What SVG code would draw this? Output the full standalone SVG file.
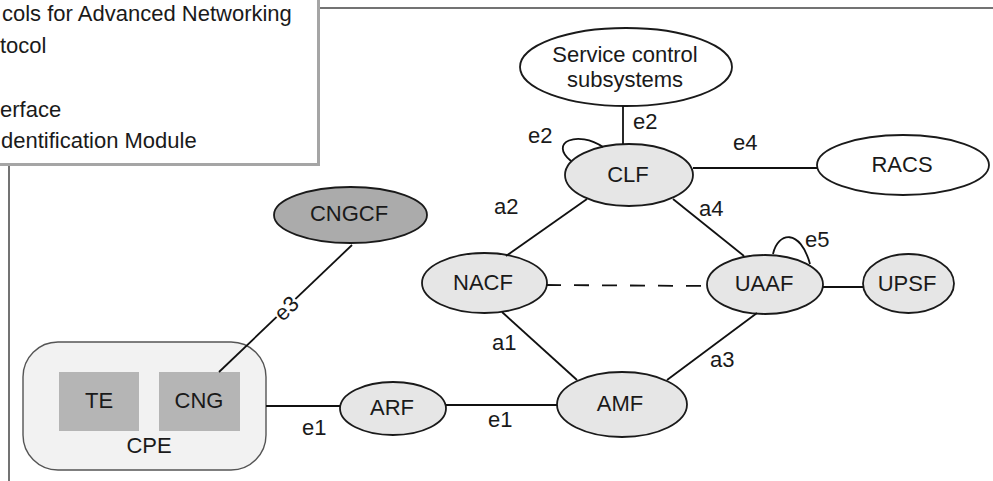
<svg xmlns="http://www.w3.org/2000/svg" width="993" height="481" viewBox="0 0 993 481">
<style>
text{font-family:"Liberation Sans",Arial,sans-serif;font-size:22px;fill:#1a1a1a}
.c{text-anchor:middle}
.n{fill:#e6e6e6;stroke:#1a1a1a;stroke-width:1.8}
.w{fill:#ffffff;stroke:#1a1a1a;stroke-width:1.8}
.l{stroke:#111;stroke-width:1.8;fill:none}
</style>
<g id="frame">
<line x1="9" y1="0" x2="9" y2="481" stroke="#444" stroke-width="1.5"/>
<line x1="300" y1="8" x2="993" y2="8" stroke="#444" stroke-width="1.5"/>
</g>
<g id="legend">
<rect x="-10" y="-10" width="328.5" height="174.5" fill="#fff" stroke="#a5a5a5" stroke-width="3"/>
<text x="2" y="21">cols for Advanced Networking</text>
<text x="0" y="53">tocol</text>
<text x="0" y="117">erface</text>
<text x="1" y="148">dentification Module</text>
</g>
<g id="service-control">
<ellipse class="w" cx="626" cy="67" rx="106" ry="39"/>
<text class="c" x="625" y="62">Service control</text>
<text class="c" x="625" y="87">subsystems</text>
</g>
<g id="clf">
<ellipse class="n" cx="629" cy="175" rx="64" ry="31"/>
<text class="c" x="628" y="182">CLF</text>
</g>
<g id="racs">
<ellipse class="w" cx="903" cy="165" rx="86" ry="30"/>
<text class="c" x="902" y="172">RACS</text>
</g>
<g id="cngcf">
<ellipse cx="350.5" cy="215" rx="76.5" ry="28" fill="#ababab" stroke="#1a1a1a" stroke-width="1.8"/>
<text class="c" x="349" y="221">CNGCF</text>
</g>
<g id="nacf">
<ellipse class="n" cx="484.5" cy="283" rx="62.5" ry="30"/>
<text class="c" x="483" y="290">NACF</text>
</g>
<g id="uaaf">
<ellipse class="n" cx="765" cy="284.5" rx="58" ry="29.5"/>
<text class="c" x="764" y="291">UAAF</text>
</g>
<g id="upsf">
<ellipse class="n" cx="908.5" cy="283.5" rx="45.5" ry="29.5"/>
<text class="c" x="907" y="291">UPSF</text>
</g>
<g id="amf">
<ellipse class="n" cx="622" cy="404.5" rx="65" ry="32.5"/>
<text class="c" x="620" y="411">AMF</text>
</g>
<g id="arf">
<ellipse class="n" cx="393" cy="408.5" rx="53" ry="26.5"/>
<text class="c" x="392" y="415">ARF</text>
</g>
<g id="cpe">
<rect x="23" y="342" width="243" height="128" rx="35" ry="35" fill="#f2f2f2" stroke="#555" stroke-width="1.4"/>
<text class="c" x="149" y="453">CPE</text>
</g>
<g id="te">
<rect x="59" y="372" width="80" height="59" fill="#b5b5b5"/>
<text class="c" x="99" y="408">TE</text>
</g>
<g id="cng">
<rect x="159" y="372" width="81" height="59" fill="#b5b5b5"/>
<text class="c" x="199" y="408">CNG</text>
</g>
<g id="connectors">
<line class="l" x1="623" y1="106" x2="623" y2="144"/>
<path class="l" d="M571,161 C548,142 578,130 603,147"/>
<line class="l" x1="693" y1="168" x2="817" y2="168"/>
<line class="l" x1="587" y1="199" x2="506" y2="256"/>
<line class="l" x1="673" y1="199" x2="744" y2="256"/>
<path class="l" d="M773,254 C778,232 800,228 810,264"/>
<line class="l" x1="546" y1="285" x2="707" y2="286" stroke-dasharray="15 13"/>
<line class="l" x1="823" y1="287" x2="863" y2="287"/>
<line class="l" x1="502" y1="312" x2="577" y2="380"/>
<line class="l" x1="757" y1="313" x2="667" y2="380"/>
<line class="l" x1="446" y1="405" x2="557" y2="405"/>
<line class="l" x1="266" y1="406" x2="340" y2="406"/>
<line class="l" x1="352" y1="245" x2="219" y2="372"/>
<text x="633" y="129">e2</text>
<text x="528" y="143">e2</text>
<text x="733" y="150">e4</text>
<text x="494" y="214">a2</text>
<text x="699" y="216">a4</text>
<text x="805" y="247">e5</text>
<text x="492" y="350">a1</text>
<text x="710" y="367">a3</text>
<text x="488" y="427">e1</text>
<text x="302" y="435">e1</text>
<g transform="translate(286,308) rotate(-43.7)">
<rect x="-13" y="-9" width="26" height="18" fill="#fff"/>
<text class="c" x="0" y="8">e3</text>
</g>
</g>
</svg>
